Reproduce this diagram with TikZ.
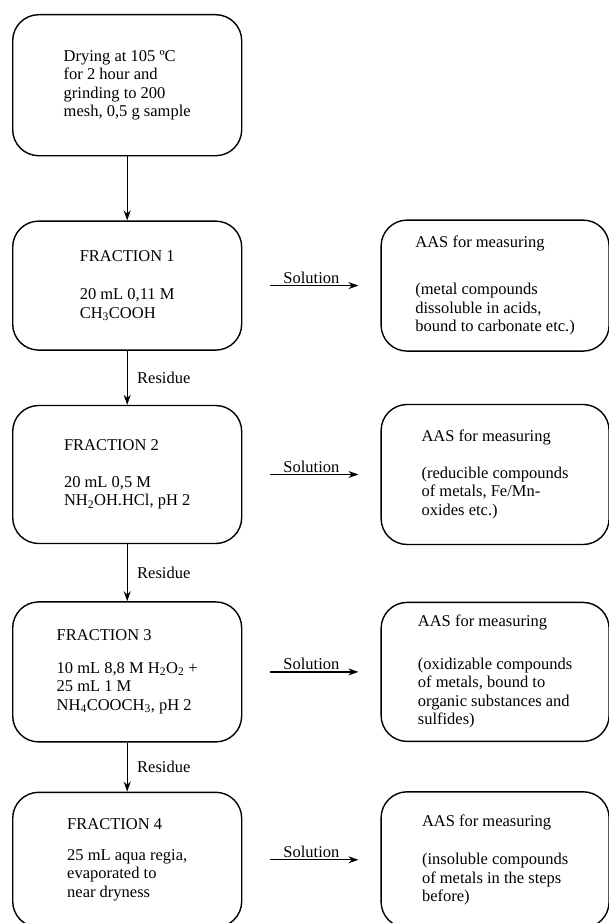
\documentclass[tikz,border=0pt]{standalone}
\usepackage{fontspec}
\setmainfont{Liberation Serif}
\usetikzlibrary{arrows.meta,positioning}

\begin{document}
\begin{tikzpicture}[
    node distance=54pt and 138pt,
    stepbox/.style={rectangle, draw, line width=1.4pt, rounded corners=26pt, minimum width=229pt, align=left, font=\fontsize{16.5}{18.5}\selectfont},
    aas/.style={stepbox, minimum width=228pt},
    arrow/.style={->, >={Stealth[length=10pt,width=7pt]}, line width=1.3pt},
    lbl/.style={font=\fontsize{16.5}{18.5}\selectfont}
]
    \useasboundingbox (0pt,0pt) rectangle (609pt,-923pt);

    \node[stepbox, minimum height=141pt, anchor=north west] (prep) at (12pt,-14pt) {Drying at 105 ºC\\for 2 hour and\\grinding to 200\\mesh, 0,5 g sample};
    \node[stepbox, minimum height=129pt, below=64pt of prep] (frac1) {FRACTION 1\\[20pt]20 mL 0,11 M\\CH\textsubscript{3}COOH};
    \node[stepbox, minimum height=138pt, below=54pt of frac1] (frac2) {FRACTION 2\\[18pt]20 mL 0,5 M\\NH\textsubscript{2}OH.HCl, pH 2};
    \node[stepbox, minimum height=140pt, below=57pt of frac2] (frac3) {FRACTION 3\\[14pt]10 mL 8,8 M H\textsubscript{2}O\textsubscript{2} +\\25 mL 1 M\\NH\textsubscript{4}COOCH\textsubscript{3}, pH 2};
    \node[stepbox, minimum height=135pt, below=49pt of frac3] (frac4) {FRACTION 4\\[12pt]25 mL aqua regia,\\evaporated to\\near dryness};

    \node[aas, minimum height=131pt, right=of frac1] (aas1) {AAS for measuring\\[29pt](metal compounds\\dissoluble in acids,\\bound to carbonate etc.)};
    \node[aas, minimum height=140pt, right=of frac2] (aas2) {AAS for measuring\\[18pt](reducible compounds\\of metals, Fe/Mn-\\oxides etc.)};
    \node[aas, minimum height=139pt, right=of frac3] (aas3) {AAS for measuring\\[24pt](oxidizable compounds\\of metals, bound to\\organic substances and\\sulfides)};
    \node[aas, minimum height=136pt, right=of frac4] (aas4) {AAS for measuring\\[20pt](insoluble compounds\\of metals in the steps\\before)};

    \draw[arrow] (prep) -- (frac1);
    \draw[arrow] (frac1) -- (frac2) node[lbl, midway, right=6pt] {Residue};
    \draw[arrow] (frac2) -- (frac3) node[lbl, midway, right=6pt] {Residue};
    \draw[arrow] (frac3) -- (frac4) node[lbl, midway, right=6pt] {Residue};

    \draw[arrow, shorten <=28pt, shorten >=22pt] (frac1) -- (aas1) node[lbl, midway, above=-2pt] {Solution};
    \draw[arrow, shorten <=28pt, shorten >=22pt] (frac2) -- (aas2) node[lbl, midway, above=-2pt] {Solution};
    \draw[arrow, shorten <=28pt, shorten >=22pt] (frac3) -- (aas3) node[lbl, midway, above=-2pt] {Solution};
    \draw[arrow, shorten <=28pt, shorten >=22pt] (frac4) -- (aas4) node[lbl, midway, above=-2pt] {Solution};
\end{tikzpicture}
\end{document}
